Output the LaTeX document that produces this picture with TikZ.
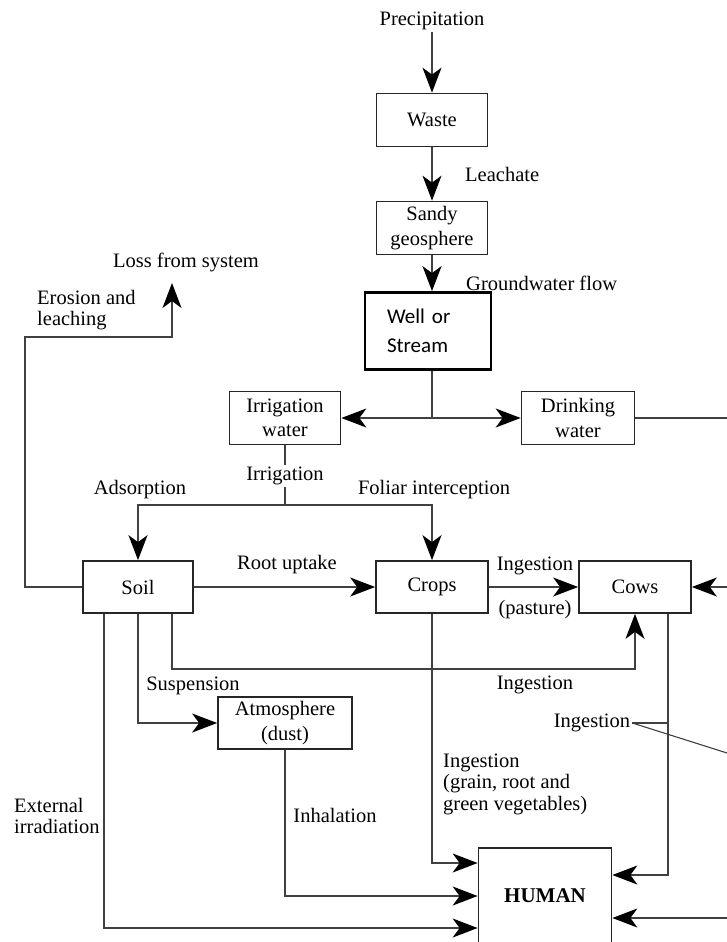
\documentclass[tikz,border=0pt]{standalone}
\usepackage{fontspec}
\setmainfont{Liberation Serif}
\newfontfamily\calibrifont{Carlito}
\usetikzlibrary{arrows.meta,positioning,calc}

\tikzset{
  box/.style={draw=black!85, line width=1.7pt, fill=white, align=center, inner sep=0pt,
    minimum width=111pt, minimum height=53pt, font=\fontsize{20.5}{24.5}\selectfont},
  lbl/.style={inner sep=2pt, align=left, font=\fontsize{20.5}{21.5}\selectfont},
  flow/.style={draw=black!75, line width=1.6pt},
  arr/.style={flow, -{Stealth[length=25pt,width=19pt,inset=7pt,color=black]}},
}

\begin{document}
\begin{tikzpicture}[x=1pt,y=-1pt]
  \useasboundingbox (0,0) rectangle (727,942);

  % Draw the compartments
  \node[box] (waste) at (432,120) {Waste};
  \node[box] (sandy) at (432,228) {Sandy\\geosphere};
  \node[box, draw=black, line width=2.8pt, minimum width=126pt, minimum height=77pt,
    text width=82pt, align=left, font=\calibrifont\fontsize{21}{29}\selectfont] (well) at (428,331) {Well or\\Stream};
  \node[box] (irrig) at (285,418) {Irrigation\\water};
  \node[box, minimum width=113pt] (drink) at (578,418) {Drinking\\water};
  \node[box, minimum width=110pt, minimum height=52pt] (soil) at (138,587) {Soil};
  \node[box, minimum width=112pt, minimum height=52pt] (crops) at (432,587) {Crops};
  \node[box, minimum width=112pt, minimum height=52pt] (cows) at (635,587) {Cows};
  \node[box, minimum width=134pt, minimum height=52pt] (atmos) at (285,723) {Atmosphere\\(dust)};
  \node[box, minimum width=133pt, minimum height=96pt, font=\bfseries\fontsize{21}{25}\selectfont] (human) at (545,896) {HUMAN};

  % Add the pathway labels
  \node[lbl] (precip) at (432,21) {Precipitation};
  \node[lbl, anchor=west] (leach) at (463,174) {Leachate};
  \node[lbl, anchor=west] (gwflow) at (464,283) {Groundwater flow};
  \node[lbl] (loss) at (186,262) {Loss from system};
  \node[lbl, anchor=west] (erosion) at (35,310) {Erosion and\\leaching};
  \node[lbl, fill=white] (irrlbl) at (285,476) {Irrigation};
  \node[lbl] (adsorp) at (140,490) {Adsorption};
  \node[lbl] (foliar) at (434,490) {Foliar interception};
  \node[lbl] (rootup) at (287,565) {Root uptake};
  \node[lbl] (ingpast) at (535,566) {Ingestion};
  \node[lbl] (pasture) at (535,610) {(pasture)};
  \node[lbl] (ingsoil) at (535,685) {Ingestion};
  \node[lbl] (susp) at (193,686) {Suspension};
  \node[lbl] (ingcow) at (592,723) {Ingestion};
  \node[lbl] (inhal) at (335,815) {Inhalation};
  \node[lbl, anchor=west] (extirr) at (12,816) {External\\irradiation};
  \node[lbl, anchor=west] (ingcrop) at (441,784) {Ingestion\\(grain, root and\\green vegetables)};

  % Free ends at the edge of the picture
  \coordinate (split) at (432,418);
  \coordinate (irrsplit) at (285,505);
  \coordinate (drinkout) at (727,418);
  \coordinate (cowsin) at (727,587);
  \coordinate (humanin) at (727,918);
  \coordinate (edgeline) at (727,753);
  \coordinate (erocorner) at (25,337);
  \coordinate (lossin) at (172,283);

  % Leaching down to the well
  \foreach \a/\b in {precip/waste, waste/sandy}
    \draw[arr] (\a) -- (\b);
  \draw[arr] (sandy) -- (sandy.south |- well.north);
  \draw[flow] (sandy.south |- well.south) -- (split);
  \draw[arr] (split) -- (irrig);
  \draw[arr] (split) -- (drink);
  \draw[flow] (drink) -- (drinkout);

  % Irrigation
  \draw[flow] (irrig) -- (irrlbl);
  \draw[flow] (irrlbl) -- (irrsplit);
  \draw[arr] (irrsplit) -| (soil);
  \draw[arr] (irrsplit) -| (crops);

  % Soil, crops and cows
  \draw[arr] (soil) -- (crops);
  \draw[arr] (crops) -- (cows);
  \draw[arr] (cowsin) -- (cows);
  \draw[arr] (soil.west) -| (erocorner) -| (lossin);
  \draw[arr] (soil.south) |- (atmos);
  \draw[arr] ([xshift=34pt]soil.south) -- ++(0,55) -| (cows);

  % Pathways to the human
  \draw[arr] ([xshift=-34pt]soil.south) |- ([yshift=-32pt]human.west);
  \draw[arr] (atmos) |- (human);
  \draw[arr] (crops) |- ([yshift=33pt]human.west);
  \draw[arr] ([xshift=33pt]cows.south) |- ([yshift=21pt]human.east);
  \draw[arr] (humanin) -- ([yshift=-22pt]human.east);

  % Leader lines of the cow ingestion label
  \draw[flow, line width=1.1pt] (ingcow.east) -- ([xshift=33pt]cows.south |- ingcow.east);
  \draw[flow, line width=1.1pt] (ingcow.east) -- (edgeline);
\end{tikzpicture}
\end{document}
